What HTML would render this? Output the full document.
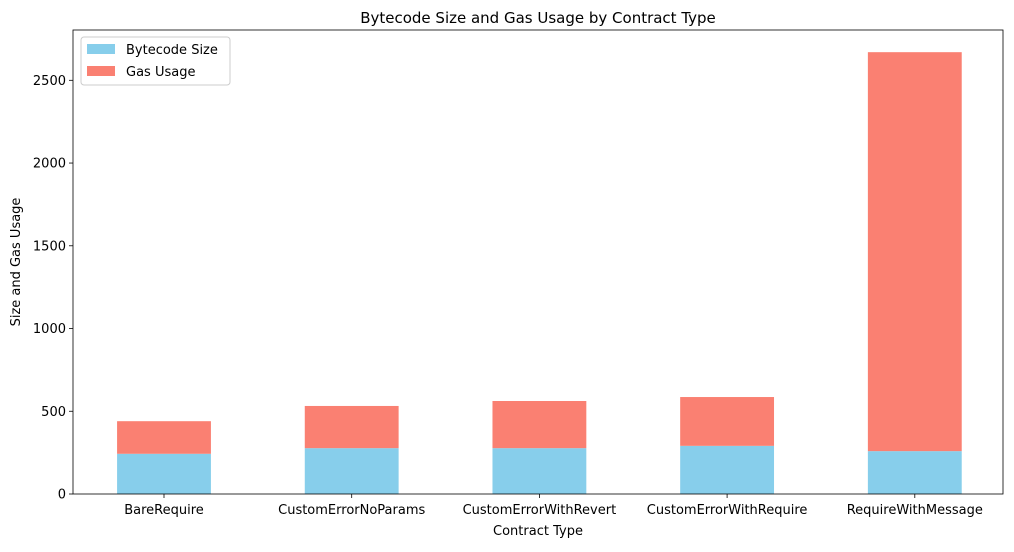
<!DOCTYPE html>
<html><head><meta charset="utf-8"><style>
body{margin:0;background:#fff;font-family:"Liberation Sans","DejaVu Sans",sans-serif;}
</style></head><body>
<svg id="chart" width="1014" height="547" xmlns="http://www.w3.org/2000/svg" font-family="DejaVu Sans, Liberation Sans, sans-serif">
<rect width="1014" height="547" fill="#fff"/>
<g id="plot"></g>
</svg>
<script>
const categories=["BareRequire","CustomErrorNoParams","CustomErrorWithRevert","CustomErrorWithRequire","RequireWithMessage"];
const bytecodeSize=[243,277,277,291,259];
const gasUsage=[197,255,285,295,2411];
const yTicks=[0,500,1000,1500,2000,2500];
const seriesNames=["Bytecode Size","Gas Usage"];

const L=73,R=1003,T=30,B=494;
const yMax=2804;
const y=v=>B-(v/yMax)*(B-T);
const band=187.7;
const xc=i=>164+band*i;
const NS="http://www.w3.org/2000/svg";
const g=document.getElementById('plot');
function el(tag,attrs,text){const e=document.createElementNS(NS,tag);for(const k in attrs)e.setAttribute(k,attrs[k]);if(text!=null)e.textContent=text;g.appendChild(e);return e;}

categories.forEach((c,i)=>{
  const w=band*0.5,x=xc(i)-w/2;
  const b=el('rect',{x:x,y:y(bytecodeSize[i]),width:w,height:y(0)-y(bytecodeSize[i]),fill:'#87ceeb'});
  
  
  const top=bytecodeSize[i]+gasUsage[i];
  const gb=el('rect',{x:x,y:y(top),width:w,height:y(bytecodeSize[i])-y(top),fill:'#fa8072'});
  
  
  const t=el('line',{x1:xc(i),x2:xc(i),y1:B,y2:B+4,stroke:'#000','stroke-width':0.8});
  
  
  const lb=el('text',{x:xc(i),y:B+20,'text-anchor':'middle','font-size':13},c);
  
  
});
yTicks.forEach(v=>{
  const t=el('line',{x1:L-4,x2:L,y1:y(v),y2:y(v),stroke:'#000','stroke-width':0.8});
  
  
  const lb=el('text',{x:L-7,y:y(v)+4.5,'text-anchor':'end','font-size':13},String(v));
  
  
});
const fr=el('rect',{x:L,y:T,width:R-L,height:B-T,fill:'none',stroke:'#000','stroke-width':0.8});


const ti=el('text',{x:(L+R)/2,y:23,'text-anchor':'middle','font-size':15},'Bytecode Size and Gas Usage by Contract Type');


const xt=el('text',{x:(L+R)/2,y:535,'text-anchor':'middle','font-size':13},'Contract Type');


const yt=el('text',{x:20,y:(T+B)/2,'text-anchor':'middle','font-size':13,transform:'rotate(-90 20 '+((T+B)/2)+')'},'Size and Gas Usage');


const lg=el('rect',{x:81,y:37,width:149,height:48,fill:'#fff',stroke:'#ccc',rx:3});


const cols=['#87ceeb','#fa8072'];
seriesNames.forEach((n,i)=>{
  const s=el('rect',{x:87,y:44+i*22,width:28,height:10,fill:cols[i]});
  
  
  const t=el('text',{x:126,y:54+i*22,'font-size':13},n);
  
  
});
</script>
</body></html>
